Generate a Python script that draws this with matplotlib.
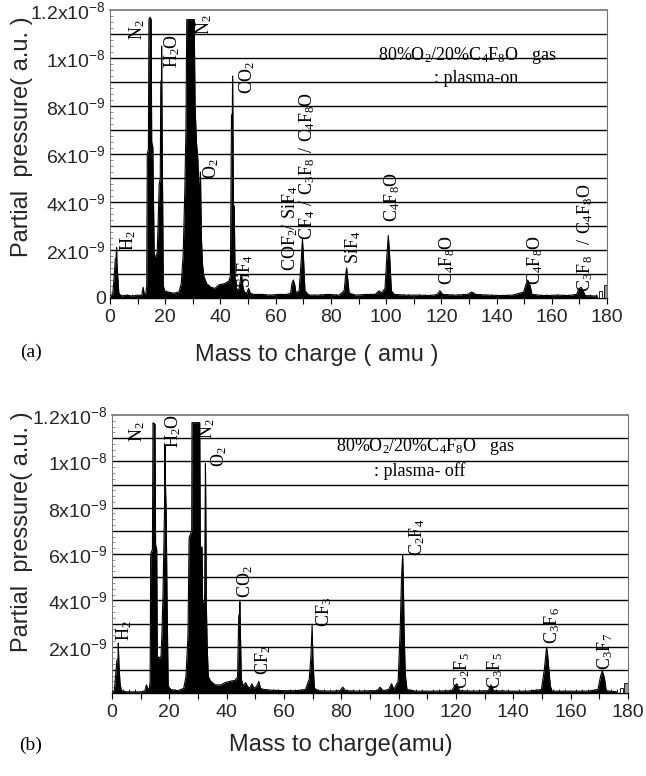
import numpy as np
import matplotlib
matplotlib.use("Agg")
import matplotlib.pyplot as plt

# spectra, pressure in units of 1e-9 a.u.; (m/z, pressure) outline points
spec_on = [
    (0.0, 0.10), (1.0, 0.15), (1.5, 0.9), (1.9, 1.6), (2.2, 1.7), (2.4, 2.1), (2.5, 1.5),
    (2.8, 0.9), (3.2, 0.2), (4.0, 0.08), (6.0, 0.12), (8.0, 0.08), (10.0, 0.12), (11.5, 0.1),
    (12.0, 0.45), (12.4, 0.15), (13.0, 0.2), (13.3, 0.5), (13.5, 6.0), (13.9, 6.2),
    (14.1, 11.6), (14.5, 11.7), (14.9, 11.6), (15.1, 6.5), (15.5, 6.3), (15.7, 4.5),
    (16.0, 1.8), (16.5, 1.7), (17.1, 1.9), (17.4, 3.0), (17.8, 4.7), (18.2, 5.0), (18.4, 9.0),
    (18.65, 9.1), (18.7, 10.5), (18.75, 9.0), (19.0, 5.0), (19.3, 0.5), (19.8, 0.3),
    (21.0, 0.25), (23.0, 0.2), (25.0, 0.25), (25.8, 0.6), (26.5, 1.8), (27.1, 4.5),
    (27.5, 7.0), (27.8, 11.6), (30.5, 11.6), (30.8, 8.0), (31.3, 6.5), (31.8, 5.8),
    (32.3, 4.4), (32.6, 4.6), (32.75, 5.25), (32.85, 4.5), (33.1, 2.5), (33.5, 1.4),
    (34.0, 0.9), (35.0, 0.6), (36.5, 0.45), (38.0, 0.4), (39.5, 0.55), (41.5, 0.6),
    (43.0, 0.7), (43.6, 0.9), (44.0, 7.6), (44.3, 7.7), (44.4, 9.25), (44.5, 7.7),
    (44.7, 3.9), (45.0, 3.8), (45.3, 0.8), (46.0, 0.3), (46.8, 0.4), (47.3, 0.85),
    (47.7, 0.9), (48.1, 0.5), (48.6, 0.25), (49.5, 0.2), (50.2, 0.4), (50.8, 0.2),
    (52.0, 0.15), (55.0, 0.15), (58.0, 0.12), (61.0, 0.15), (64.0, 0.15), (65.4, 0.2),
    (65.9, 0.6), (66.4, 0.75), (66.9, 0.55), (67.4, 0.2), (68.5, 0.3), (69.2, 1.5),
    (69.7, 2.45), (70.1, 1.6), (70.6, 0.3), (72.0, 0.12), (75.0, 0.12), (79.0, 0.15),
    (83.0, 0.12), (84.8, 0.3), (85.3, 0.9), (85.7, 1.25), (86.1, 0.8), (86.6, 0.2),
    (89.0, 0.12), (93.0, 0.15), (96.0, 0.15), (97.5, 0.3), (98.3, 0.2), (99.6, 0.4),
    (100.3, 1.8), (100.8, 2.6), (101.3, 1.7), (101.9, 0.3), (103.0, 0.15), (107.0, 0.12),
    (112.0, 0.12), (116.0, 0.1), (118.5, 0.15), (119.5, 0.3), (120.5, 0.15), (125.0, 0.12),
    (129.5, 0.15), (131.0, 0.25), (132.5, 0.15), (137.0, 0.12), (142.0, 0.1), (146.0, 0.12),
    (149.8, 0.25), (150.6, 0.55), (151.3, 0.75), (152.2, 0.5), (152.8, 0.15), (157.0, 0.1),
    (162.0, 0.12), (166.0, 0.1), (169.0, 0.15), (169.8, 0.38), (170.6, 0.45), (171.4, 0.3),
    (172.0, 0.1), (176.5, 0.08),
]

spec_off = [
    (0.0, 0.05), (0.8, 0.1), (1.3, 0.8), (1.7, 1.4), (2.1, 1.5), (2.2, 2.15), (2.4, 1.3),
    (2.8, 0.4), (3.3, 0.1), (5.0, 0.05), (8.0, 0.05), (10.0, 0.05), (11.5, 0.1), (12.0, 0.35),
    (12.5, 0.2), (13.0, 0.15), (13.3, 0.5), (13.5, 6.0), (14.1, 6.2), (14.3, 11.67),
    (15.0, 11.6), (15.2, 6.4), (15.6, 6.2), (15.8, 1.6), (16.4, 1.5), (17.1, 1.6), (17.4, 2.5),
    (17.8, 4.3), (18.3, 7.8), (18.4, 9.2), (18.5, 10.67), (18.6, 9.2), (18.9, 7.8),
    (19.2, 4.0), (19.6, 0.3), (20.5, 0.15), (23.0, 0.1), (25.0, 0.2), (25.8, 0.7),
    (26.5, 2.5), (26.9, 6.7), (27.8, 7.0), (27.9, 11.67), (30.6, 11.67), (30.8, 6.3),
    (31.4, 6.3), (31.6, 3.9), (32.3, 4.0), (32.5, 8.25), (32.6, 9.9), (32.7, 8.25),
    (32.9, 3.9), (33.2, 2.0), (33.6, 0.7), (34.5, 0.5), (36.0, 0.35), (38.0, 0.35),
    (39.5, 0.45), (41.0, 0.5), (43.0, 0.55), (43.8, 0.7), (44.2, 3.3), (44.5, 3.45),
    (44.6, 3.94), (44.7, 3.3), (45.1, 0.6), (45.8, 0.3), (46.6, 0.45), (47.2, 0.3),
    (48.0, 0.2), (48.8, 0.4), (49.5, 0.2), (50.5, 0.3), (51.2, 0.5), (51.8, 0.2),
    (53.0, 0.15), (56.0, 0.12), (60.0, 0.1), (64.0, 0.1), (67.5, 0.15), (68.8, 0.6),
    (69.4, 1.6), (69.8, 2.93), (70.1, 1.4), (70.6, 0.2), (72.0, 0.1), (76.0, 0.08),
    (79.5, 0.1), (80.5, 0.25), (81.5, 0.1), (86.0, 0.08), (90.0, 0.1), (92.5, 0.1),
    (93.5, 0.25), (94.5, 0.1), (96.5, 0.15), (97.5, 0.4), (98.3, 0.15), (99.8, 0.5),
    (100.5, 2.6), (101.0, 5.0), (101.4, 5.95), (101.6, 5.0), (101.9, 2.65), (102.3, 0.8),
    (102.9, 0.15), (106.0, 0.08), (112.0, 0.08), (118.5, 0.1), (119.5, 0.3), (120.3, 0.4),
    (121.2, 0.1), (126.0, 0.08), (131.3, 0.1), (132.2, 0.35), (133.1, 0.1), (139.0, 0.08),
    (145.0, 0.08), (149.8, 0.15), (150.8, 1.0), (151.6, 1.97), (152.0, 1.6), (152.9, 0.3),
    (153.5, 0.08), (160.0, 0.08), (166.0, 0.08), (169.5, 0.15), (170.4, 0.7), (171.0, 0.95),
    (171.7, 0.7), (172.4, 0.1), (176.0, 0.05),
]

# small marker boxes at the right end of each scan
box_mass = [177.8, 179.3]
box_on = [0.3, 0.55]
box_off = [0.2, 0.43]

ytick_vals = [0, 2, 4, 6, 8, 10, 12]
ytick_on = ["0", "2x10$^{-9}$", "4x10$^{-9}$", "6x10$^{-9}$", "8x10$^{-9}$",
            "1x10$^{-8}$", "1.2x10$^{-8}$"]
ytick_off = ["", "2x10$^{-9}$", "4x10$^{-9}$", "6x10$^{-9}$", "8x10$^{-9}$",
             "1x10$^{-8}$", "1.2x10$^{-8}$"]

# peak labels: text, m/z, height
labels_on = [
    (r"$\mathregular{H_2}$", 6.5, 2.4),
    (r"$\mathregular{N_2}$", 9.8, 11.2),
    (r"$\mathregular{H_2O}$", 22.5, 10.3),
    (r"$\mathregular{N_2}$", 34.0, 11.4),
    (r"$\mathregular{O_2}$", 36.6, 5.4),
    (r"$\mathregular{CO_2}$", 49.6, 9.2),
    (r"$\mathregular{SiF_4}$", 48.9, 1.1),
    (r"$\mathregular{COF_2/\ SiF_4}$", 65.2, 2.9),
    (r"$\mathregular{CF_4\ /\ C_3F_8\ /\ C_4F_8O}$", 71.3, 5.5),
    (r"$\mathregular{SiF_4}$", 88.0, 2.1),
    (r"$\mathregular{C_4F_8O}$", 102.1, 4.2),
    (r"$\mathregular{C_4F_8O}$", 122.1, 1.6),
    (r"$\mathregular{C_4F_8O}$", 153.9, 1.6),
    (r"$\mathregular{C_3F_8\ \ /\ C_4F_8O}$", 172.0, 2.5),
]
labels_off = [
    (r"$\mathregular{H_2}$", 4.2, 2.7),
    (r"$\mathregular{N_2}$", 8.7, 11.3),
    (r"$\mathregular{H_2O}$", 21.3, 11.3),
    (r"$\mathregular{N_2}$", 33.1, 11.4),
    (r"$\mathregular{O_2}$", 37.3, 10.2),
    (r"$\mathregular{CO_2}$", 46.4, 4.8),
    (r"$\mathregular{CF_2}$", 52.7, 1.4),
    (r"$\mathregular{CF_3}$", 73.9, 3.5),
    (r"$\mathregular{C_2F_4}$", 106.4, 6.7),
    (r"$\mathregular{C_2F_5}$", 122.1, 0.95),
    (r"$\mathregular{C_3F_5}$", 133.6, 0.95),
    (r"$\mathregular{C_3F_6}$", 153.5, 2.9),
    (r"$\mathregular{C_3F_7}$", 172.0, 1.8),
]

gas = r"80%$\mathregular{O_2}$/20%$\mathregular{C_4F_8}$O   gas"

plt.rcParams["mathtext.default"] = "regular"
SANS = ["Liberation Sans", "DejaVu Sans"]
SERIF = ["Liberation Serif", "DejaVu Serif"]

fig = plt.figure(figsize=(6.46, 7.76), dpi=100)
ax_a = fig.add_axes([110 / 646, 1 - 298 / 776, 497 / 646, 288 / 776])
ax_b = fig.add_axes([112 / 646, 1 - 693 / 776, 516 / 646, 278 / 776])


def draw(ax, spec, boxes, yticklabels, labels, cond, cond_pos):
    m = np.array([p[0] for p in spec])
    v = np.array([p[1] for p in spec])
    ax.fill_between(m, 0, v, color="black", lw=0, zorder=3)
    ax.plot(m, v, color="black", lw=0.8, zorder=3)
    ax.bar(box_mass[0], boxes[0], width=1.1, color="white", edgecolor="black", lw=0.6, zorder=4)
    ax.bar(box_mass[1], boxes[1], width=1.1, color="0.6", edgecolor="black", lw=0.6, zorder=4)

    ax.hlines(np.arange(1, 12), 0, 180, color="black", lw=1.0, zorder=2)
    ax.set_xlim(0, 180)
    ax.set_ylim(0, 12)

    ax.set_xticks(np.arange(0, 181, 10))
    ax.set_xticklabels([str(t) if t % 20 == 0 else "" for t in range(0, 181, 10)])
    ax.set_xticks(np.arange(0, 181, 2), minor=True)
    ax.set_yticks(ytick_vals)
    ax.set_yticklabels(yticklabels)
    ax.set_yticks(np.arange(0, 12, 0.25), minor=True)
    ax.tick_params(axis="x", which="major", direction="out", length=4, width=0.8, pad=4)
    ax.tick_params(axis="x", which="minor", direction="in", length=3, width=0.6)
    ax.tick_params(axis="y", which="major", length=0, pad=3)
    ax.tick_params(axis="y", which="minor", direction="in", length=2, width=0.5, color="0.4")
    for lab in ax.get_xticklabels() + ax.get_yticklabels():
        lab.set_family(SANS)
        lab.set_fontsize(14)
        lab.set_color("0.15")

    ax.spines["bottom"].set_linewidth(1.0)
    ax.spines["left"].set_color("0.45")
    ax.spines["left"].set_linewidth(0.7)
    ax.spines["right"].set_color("0.45")
    ax.spines["right"].set_linewidth(0.8)
    ax.spines["right"].set_linestyle((0, (2, 1)))
    ax.spines["top"].set_color("0.45")
    ax.spines["top"].set_linewidth(1.2)

    for text, x, y in labels:
        ax.text(x, y, text, rotation=90, ha="center", va="center",
                family=SERIF, fontsize=13, zorder=5)

    ax.text(cond_pos[0], cond_pos[1], gas, ha="center", va="center",
            family=SERIF, fontsize=13, zorder=5)
    ax.text(cond_pos[2], cond_pos[3], cond, ha="center", va="center",
            family=SERIF, fontsize=13, zorder=5)


draw(ax_a, spec_on, box_on, ytick_on, labels_on, ": plasma-on", (129.3, 10.1, 132.6, 9.15))
draw(ax_b, spec_off, box_off, ytick_off, labels_off, ": plasma- off", (109.2, 10.65, 107.4, 9.6))

fig.text(22 / 646, 1 - 137 / 776, "Partial  pressure( a.u. )", rotation=90,
         ha="center", va="center", family=SANS, fontsize=17, color="0.15")
fig.text(22 / 646, 1 - 532 / 776, "Partial  pressure( a.u. )", rotation=90,
         ha="center", va="center", family=SANS, fontsize=17, color="0.15")
fig.text(317 / 646, 1 - 355 / 776, "Mass to charge ( amu )", ha="center", va="center",
         family=SANS, fontsize=17, color="0.15")
fig.text(341 / 646, 1 - 745 / 776, "Mass to charge(amu)", ha="center", va="center",
         family=SANS, fontsize=17, color="0.15")
fig.text(31 / 646, 1 - 352 / 776, "(a)", ha="center", va="center", family=SERIF, fontsize=14)
fig.text(31 / 646, 1 - 745 / 776, "(b)", ha="center", va="center", family=SERIF, fontsize=14)

fig.savefig("out.png", dpi=100, facecolor="white")
